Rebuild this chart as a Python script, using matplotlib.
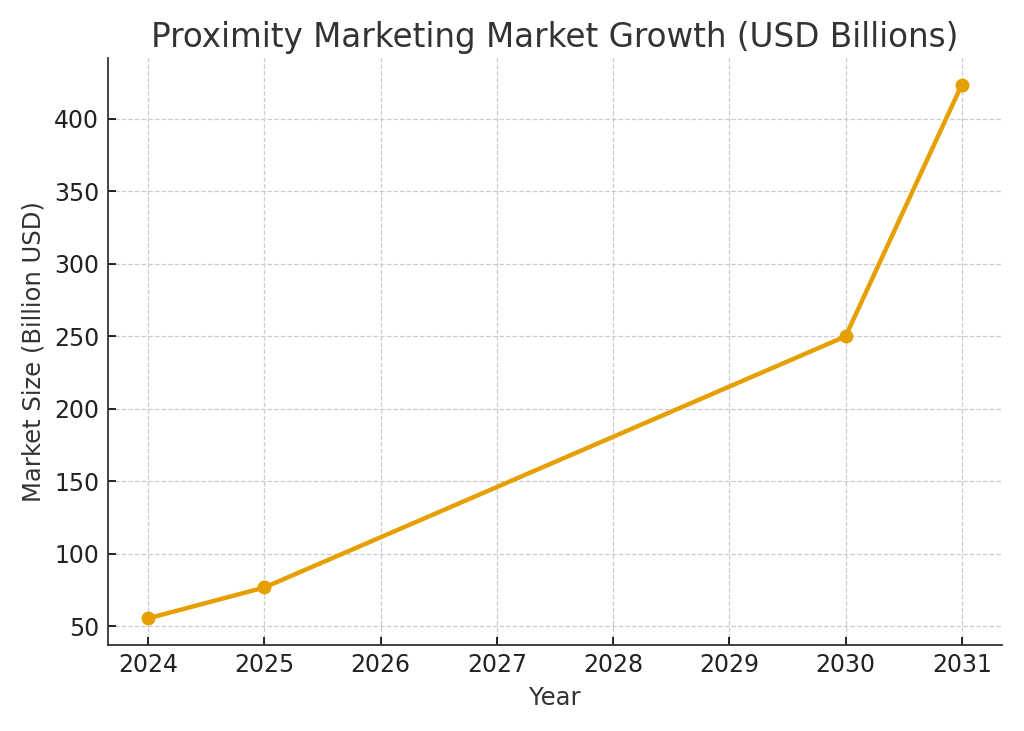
import matplotlib.pyplot as plt

# data
years = [2024, 2025, 2030, 2031]
market_size = [55.5, 76.8, 250.0, 423.6]

plt.rcParams["font.family"] = "DejaVu Sans"
text_col = "#333333"

fig, ax = plt.subplots(figsize=(10.24, 7.31), dpi=100)
fig.subplots_adjust(left=0.105, right=0.979, bottom=0.1176, top=0.9207)

ax.plot(years, market_size, marker="o", color="#E69F00", linewidth=3.2, markersize=9)

ax.set_title("Proximity Marketing Market Growth (USD Billions)", fontsize=23.5, color=text_col, pad=8)
ax.set_xlabel("Year", fontsize=17.5, color=text_col, labelpad=6)
ax.set_ylabel("Market Size (Billion USD)", fontsize=17.5, color=text_col, labelpad=6)
ax.set_xticks(range(2024, 2032))

ax.grid(True, linestyle="--", color="#cccccc", linewidth=0.9)
ax.set_axisbelow(True)
ax.tick_params(direction="in", labelsize=17, labelcolor="#222222", length=6, width=1.2)
ax.tick_params(axis="x", pad=6)
ax.tick_params(axis="y", pad=6)
for s in ["top", "right"]:
    ax.spines[s].set_visible(False)
for s in ["left", "bottom"]:
    ax.spines[s].set_color(text_col)
    ax.spines[s].set_linewidth(1.3)

fig.savefig("out.png", dpi=100)
